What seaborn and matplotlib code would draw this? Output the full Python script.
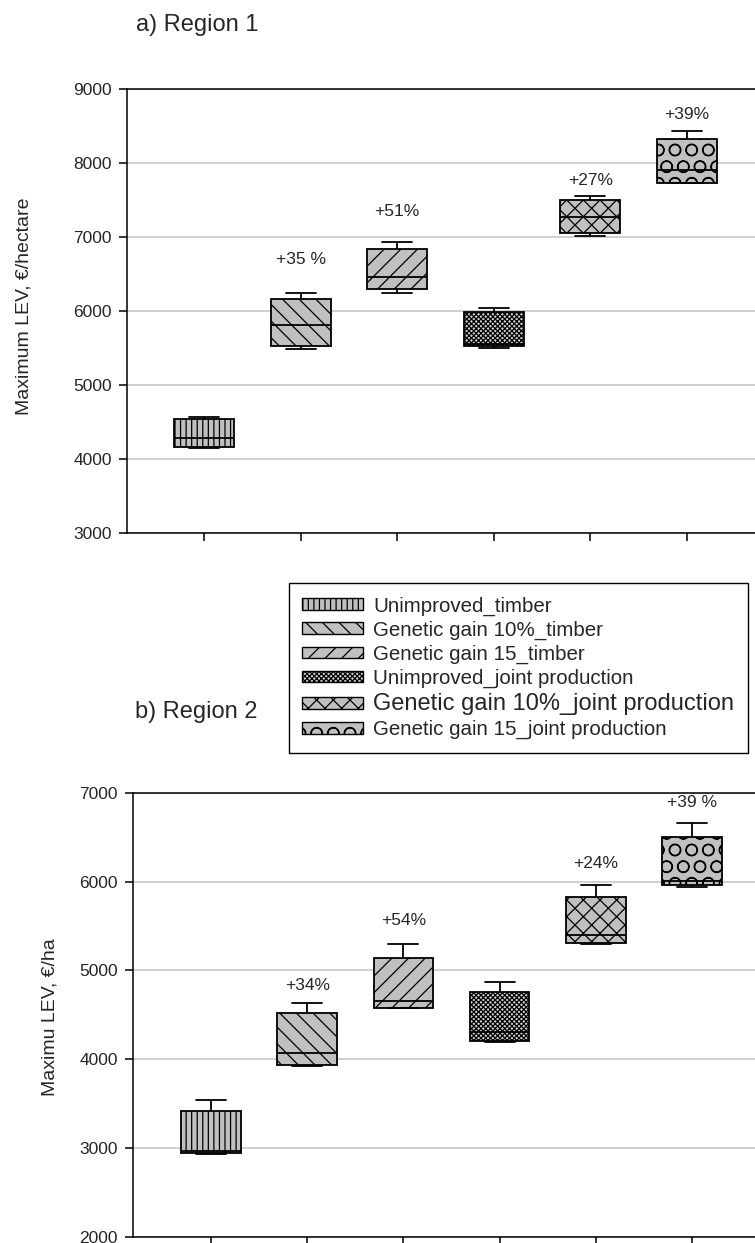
import numpy as np
import pandas as pd
import seaborn as sns
import matplotlib.pyplot as plt
from matplotlib.patches import Patch

groups = ['Unimproved_timber', 'Genetic gain 10%_timber', 'Genetic gain 15_timber',
          'Unimproved_joint production', 'Genetic gain 10%_joint production',
          'Genetic gain 15_joint production']

# region 1 box statistics
r1_min = [4150, 5490, 6250, 5505, 7020, 7725]
r1_q1 = [4160, 5530, 6300, 5530, 7060, 7730]
r1_med = [4290, 5815, 6465, 5550, 7270, 7905]
r1_q3 = [4535, 6165, 6840, 5980, 7495, 8330]
r1_max = [4570, 6250, 6935, 6040, 7555, 8430]
r1_pct = ['', '+35 %', '+51%', '', '+27%', '+39%']
r1_pct_y = [0, 6690, 7340, 0, 7757, 8650]

# region 2
r2_min = [2930, 3920, 4570, 4195, 5295, 5940]
r2_q1 = [2945, 3935, 4580, 4205, 5310, 5955]
r2_med = [2965, 4070, 4655, 4310, 5395, 6010]
r2_q3 = [3410, 4515, 5140, 4755, 5830, 6505]
r2_max = [3540, 4635, 5300, 4870, 5955, 6660]
r2_pct = ['', '+34%', '+54%', '', '+24%', '+39 %']
r2_pct_y = [0, 4831, 5559, 0, 6205, 6892]

hatches = ['|||', '\\\\', '//', 'xxxxxxx', 'xx', 'O']
faces = ['#c0c0c0', '#c0c0c0', '#c0c0c0', '#d0d0d0', '#c0c0c0', '#c0c0c0']


def make_df(mins, q1s, meds, q3s, maxs):
    rows = []
    for g, a, b, c, d, e in zip(groups, mins, q1s, meds, q3s, maxs):
        for v in (a, b, c, d, e):
            rows.append({'group': g, 'value': v})
    return pd.DataFrame(rows)


sns.set_style('white')
plt.rcParams['font.family'] = ['Liberation Sans', 'DejaVu Sans']
plt.rcParams['hatch.linewidth'] = 0.9

fig = plt.figure(figsize=(7.55, 12.43), dpi=100)
W, H = 755, 1243


def draw(ax, df, pct, pct_y, ylim, yticks):
    sns.boxplot(data=df, x='group', y='value', order=groups, color='#c0c0c0',
                saturation=1, width=0.62, linecolor='black', linewidth=1.3,
                whis=(0, 100), showfliers=False, ax=ax)
    for p, h, fc in zip(ax.patches, hatches, faces):
        p.set_hatch(h)
        p.set_facecolor(fc)
    for i, (t, y) in enumerate(zip(pct, pct_y)):
        if t:
            ax.text(i, y, t, ha='center', va='center', fontsize=12.5)
    ax.set_ylim(*ylim)
    ax.set_yticks(yticks)
    ax.yaxis.grid(True, color='#cccccc', linewidth=1.3)
    ax.set_axisbelow(True)
    ax.set_xlabel('')
    ax.set_ylabel('')
    ax.set_xticklabels([])
    ax.spines['right'].set_visible(False)
    for s in ['left', 'bottom', 'top']:
        ax.spines[s].set_color('black')
        ax.spines[s].set_linewidth(1.1)
    ax.tick_params(axis='both', direction='out', length=5.5, width=1.1,
                   color='black', labelsize=12.5, pad=5.5, left=True, bottom=True)


ax1 = fig.add_axes([127 / W, 1 - 533 / H, (W - 127) / W, 444 / H])
draw(ax1, make_df(r1_min, r1_q1, r1_med, r1_q3, r1_max), r1_pct, r1_pct_y,
     (3000, 9000), np.arange(3000, 9001, 1000))
ax1.set_xlim(-0.797, 5.704)

ax2 = fig.add_axes([133 / W, 1 - 1236.7 / H, (W - 133) / W, 444 / H])
draw(ax2, make_df(r2_min, r2_q1, r2_med, r2_q3, r2_max), r2_pct, r2_pct_y,
     (2000, 7000), np.arange(2000, 7001, 1000))
ax2.set_xlim(-0.811, 5.655)

fig.text(136 / W, 1 - 25 / H, 'a) Region 1', fontsize=17, va='center', ha='left')
fig.text(135 / W, 1 - 712 / H, 'b) Region 2', fontsize=17, va='center', ha='left')
fig.text(24 / W, 1 - 306 / H, 'Maximum LEV, €/hectare', fontsize=14, rotation=90,
         ha='center', va='center')
fig.text(50 / W, 1 - 1017 / H, 'Maximu LEV, €/ha', fontsize=14, rotation=90,
         ha='center', va='center')

handles = [Patch(facecolor=fc, edgecolor='black', hatch=h, linewidth=1.0)
           for h, fc in zip(hatches, faces)]
leg = fig.legend(handles, groups, loc='upper left',
                 bbox_to_anchor=(289 / W, 1 - 583 / H), borderaxespad=0,
                 fontsize=14.8, frameon=True, fancybox=False, framealpha=1,
                 edgecolor='black', handlelength=2.95, handleheight=0.5,
                 handletextpad=0.5, labelspacing=0.24, borderpad=0.65)
leg.get_frame().set_linewidth(1.0)
leg.get_texts()[4].set_fontsize(17)

fig.savefig('out.png', dpi=100)
